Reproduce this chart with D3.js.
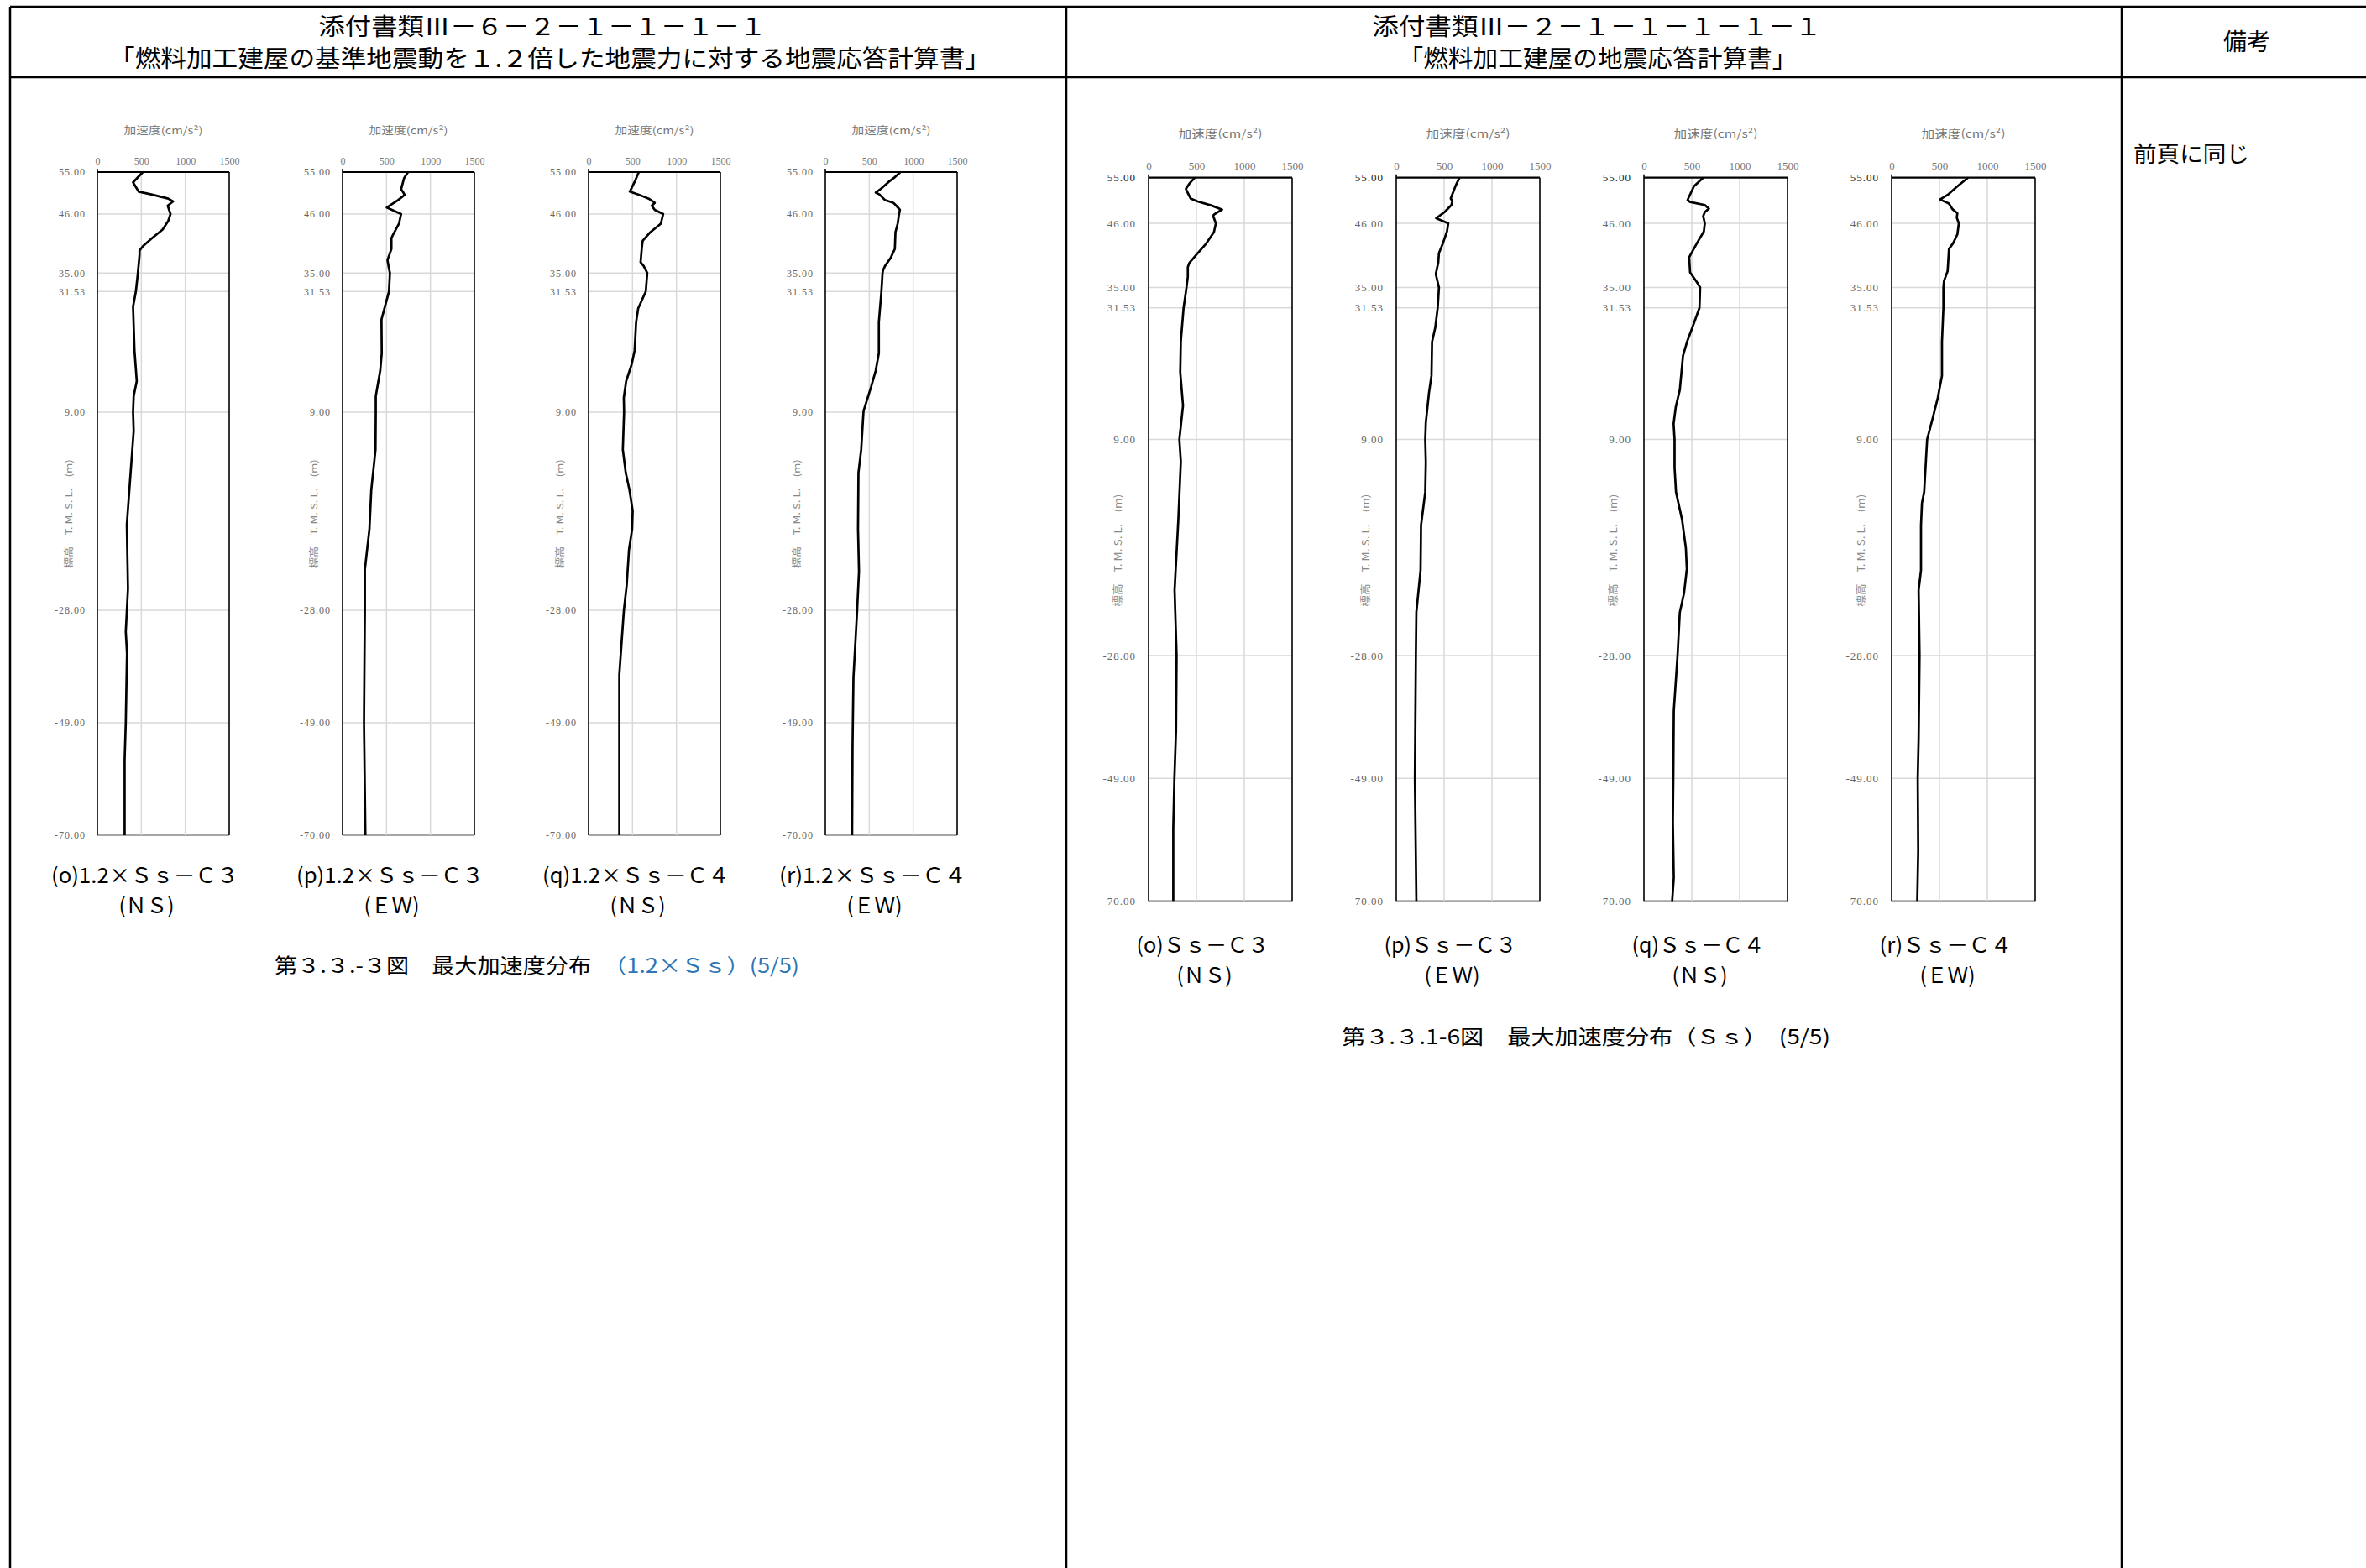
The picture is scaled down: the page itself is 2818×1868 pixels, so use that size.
<!DOCTYPE html>
<html><head><meta charset="utf-8">
<script src="https://cdn.jsdelivr.net/npm/d3@7"></script>
<style>body{margin:0;background:#fff}svg{display:block}</style>
</head><body>
<svg id="c" width="2818" height="1868"></svg>
<script>
// ---- axis ticks ----
const elevTicks = [55, 46, 35, 31.53, 9, -28, -49, -70];
const accelTicks = [0, 500, 1000, 1500];

// ---- labels ----
const leftCaptions = ["(o)1.2×Ｓｓ－Ｃ３", "(p)1.2×Ｓｓ－Ｃ３", "(q)1.2×Ｓｓ－Ｃ４", "(r)1.2×Ｓｓ－Ｃ４"];
const rightCaptions = ["(o)Ｓｓ－Ｃ３", "(p)Ｓｓ－Ｃ３", "(q)Ｓｓ－Ｃ４", "(r)Ｓｓ－Ｃ４"];
const dirLabels = ["(ＮＳ)", "(ＥＷ)", "(ＮＳ)", "(ＥＷ)"];

// ---- series: left (1.2×Ss) ----
const L_o_elev = [55, 52.8, 50.8, 50.2, 49.3, 48.7, 47.8, 46, 44.7, 43.1, 41.6, 40.0, 39.2, 38.4, 35, 31.53, 28.7, 20.6, 14.8, 12.0, 9, 5.5, -12, -24, -32, -36, -49, -56, -70];
const L_o_acc  = [518, 406, 470, 614, 806, 861, 800, 832, 806, 742, 630, 518, 480, 480, 461, 438, 406, 422, 448, 413, 406, 413, 335, 348, 323, 337, 323, 310, 310];

const L_p_elev = [55, 53.7, 51.3, 50.8, 50.1, 48.9, 47.4, 46, 44.2, 42.1, 41.5, 39.5, 37.4, 35.8, 35, 31.53, 26.3, 20, 16.8, 12, 9, 2, -5.5, -12.8, -20.4, -28, -49, -70];
const L_p_acc  = [745, 700, 666, 686, 707, 625, 504, 666, 642, 573, 556, 556, 511, 528, 539, 528, 443, 446, 429, 378, 378, 375, 327, 306, 254, 254, 244, 260];

const L_q_elev = [55, 52.9, 50.8, 50.2, 49.3, 48.4, 47.8, 46.9, 46, 44.2, 42.6, 41, 39.7, 37, 36.3, 35, 31.53, 28.4, 25.8, 20.5, 17.9, 14.8, 11.7, 9, 2, -2.3, -5.5, -9.4, -12.8, -16.7, -23.3, -28, -40, -49, -70];
const L_q_acc  = [572, 524, 469, 565, 685, 753, 719, 753, 849, 822, 702, 616, 606, 592, 627, 668, 651, 565, 541, 524, 490, 428, 401, 404, 390, 423, 465, 502, 496, 460, 434, 402, 350, 350, 350];

const L_r_elev = [55, 53.9, 52.9, 51.4, 50.6, 50.2, 49, 48.4, 47.8, 46.9, 46, 44.2, 42.6, 39.5, 37.8, 36.3, 35.5, 35, 31.53, 25.8, 20, 16.8, 13.7, 9.5, 9, 2, -2.3, -12.8, -20.7, -28, -40.6, -53.1, -70];
const L_r_acc  = [855, 791, 721, 632, 574, 616, 679, 775, 807, 849, 839, 823, 798, 791, 743, 679, 657, 651, 638, 609, 609, 574, 520, 440, 434, 408, 377, 372, 383, 362, 320, 310, 305];

// ---- series: right (Ss) ----
const R_o_elev = [55, 53.8, 52.8, 52, 50.9, 50.3, 49.5, 48.7, 47.8, 47.5, 46, 44.5, 42.5, 40.6, 39.2, 38.5, 36.8, 35, 31.53, 25.8, 20.5, 14.8, 9, 5.2, -5, -16.8, -28, -40.8, -49, -57.5, -70];
const R_o_acc  = [483, 425, 390, 410, 439, 513, 659, 768, 689, 674, 703, 683, 601, 498, 425, 410, 410, 396, 366, 337, 331, 360, 322, 337, 310, 272, 293, 287, 270, 258, 258];

const R_p_elev = [55, 53.3, 50.9, 50.4, 49.6, 48.2, 47, 46, 44.6, 42.6, 40.9, 39.3, 37.3, 35.9, 35, 31.53, 28.1, 25.7, 19.9, 17, 11.9, 9, 5.1, 0, -5.7, -13.4, -20.6, -28, -49, -70];
const R_p_acc  = [661, 618, 569, 586, 576, 504, 417, 543, 530, 488, 446, 439, 413, 433, 446, 433, 407, 374, 368, 342, 309, 303, 309, 303, 259, 254, 210, 205, 195, 210];

const R_q_elev = [55, 53.3, 50.6, 50.2, 49.6, 48.9, 48.2, 47.4, 46, 44.6, 42.6, 40.2, 37.6, 35.9, 35, 31.53, 28.1, 25.7, 23.3, 17.5, 14.6, 11.7, 9, 4.2, 0, -4.8, -9.6, -13.2, -17.3, -20.6, -28, -37.5, -49, -56.6, -66, -70];
const R_q_acc  = [619, 522, 456, 482, 636, 678, 636, 619, 636, 626, 554, 473, 482, 554, 587, 580, 505, 450, 408, 375, 333, 310, 320, 320, 335, 399, 438, 448, 419, 375, 351, 312, 307, 302, 312, 295];

const R_r_elev = [55, 53.3, 51.6, 50.7, 49.9, 48.8, 48, 47.1, 46, 44.1, 42.6, 41.6, 40.2, 37.8, 36.1, 35, 31.53, 25.7, 19.9, 16.1, 12.7, 9, 0, -1.9, -5.7, -13.4, -16.8, -28, -42.3, -49, -61.4, -70];
const R_r_acc  = [798, 687, 585, 506, 599, 635, 687, 681, 702, 687, 643, 599, 594, 585, 547, 541, 541, 526, 526, 482, 430, 371, 340, 317, 307, 307, 282, 292, 282, 273, 278, 268];

const leftSeries = [[L_o_elev, L_o_acc], [L_p_elev, L_p_acc], [L_q_elev, L_q_acc], [L_r_elev, L_r_acc]];
const rightSeries = [[R_o_elev, R_o_acc], [R_p_elev, R_p_acc], [R_q_elev, R_q_acc], [R_r_elev, R_r_acc]];

const svg = d3.select('#c');
const JP = '"Noto Sans CJK JP", "Noto Sans", sans-serif';
const NUM = '"Liberation Serif", "DejaVu Serif", serif';

// ---- page table frame ----
const frame = svg.append('g').attr('stroke', '#000').attr('stroke-width', 2.5);
frame.append('line').attr('x1', 12).attr('x2', 2818).attr('y1', 8).attr('y2', 8);
frame.append('line').attr('x1', 12).attr('x2', 2818).attr('y1', 92).attr('y2', 92);
[12, 1270, 2527].forEach(x => frame.append('line').attr('x1', x).attr('x2', x).attr('y1', 8).attr('y2', 1868));

function txt(x, y, s, size, opts = {}) {
  const t = svg.append('text').attr('x', x).attr('y', y).text(s)
    .attr('font-family', opts.family || JP).attr('font-size', size)
    .attr('fill', opts.fill || '#000').attr('text-anchor', opts.anchor || 'middle');
  if (opts.len) t.attr('textLength', opts.len).attr('lengthAdjust', 'spacingAndGlyphs');
  if (opts.weight) t.attr('font-weight', opts.weight);
  return t;
}

// headers
txt(646, 42, '添付書類Ⅲ－６－２－１－１－１－１', 28, {len: 533});
txt(655, 80, '「燃料加工建屋の基準地震動を１.２倍した地震力に対する地震応答計算書」', 28, {len: 1050});
txt(1902, 42, '添付書類Ⅲ－２－１－１－１－１－１', 28, {len: 535});
txt(1903, 80, '「燃料加工建屋の地震応答計算書」', 28, {len: 475});
txt(2676, 60, '備考', 28);
txt(2541, 193, '前頁に同じ', 26, {anchor: 'start', len: 138});

function drawChart(cfg, elev, acc, caption, dir) {
  const x = d3.scaleLinear().domain([0, 1500]).range([cfg.x0, cfg.x0 + cfg.w]);
  const y = d3.scaleLinear().domain([-70, 46, 55]).range([cfg.bottom, cfg.y46, cfg.top]);
  const g = svg.append('g');

  // horizontal gridlines
  g.selectAll('line.hg').data(elevTicks.filter(d => d !== 55)).join('line')
    .attr('class', 'hg')
    .attr('x1', x(0)).attr('x2', x(1500))
    .attr('y1', d => y(d)).attr('y2', d => y(d))
    .attr('stroke', d => d === -70 ? '#a6a6a6' : '#d9d9d9')
    .attr('stroke-width', d => d === -70 ? 2 : 1.5);
  // vertical gridlines
  g.selectAll('line.vg').data(accelTicks.filter(d => d > 0 && d < 1500)).join('line')
    .attr('class', 'vg')
    .attr('x1', d => x(d)).attr('x2', d => x(d))
    .attr('y1', y(55)).attr('y2', y(-70))
    .attr('stroke', '#d9d9d9').attr('stroke-width', 1.5);
  // frame lines
  g.append('line').attr('x1', x(0)).attr('x2', x(0)).attr('y1', y(55) - 4).attr('y2', y(-70))
    .attr('stroke', '#000').attr('stroke-width', 1.6);
  g.append('line').attr('x1', x(1500)).attr('x2', x(1500)).attr('y1', y(55)).attr('y2', y(-70))
    .attr('stroke', '#000').attr('stroke-width', 1.6);
  g.append('line').attr('x1', x(0)).attr('x2', x(1500)).attr('y1', y(55)).attr('y2', y(55))
    .attr('stroke', '#000').attr('stroke-width', 2.2);

  // y axis labels
  const ya = g.append('g').attr('transform', `translate(${x(0)},0)`)
    .call(d3.axisLeft(y).tickValues(elevTicks).tickSize(0).tickPadding(cfg.ypad)
      .tickFormat(d => d.toFixed(2)));
  ya.select('.domain').remove();
  ya.selectAll('text').attr('font-family', NUM).attr('font-size', cfg.fs)
    .attr('letter-spacing', 1).attr('fill', (d) => (cfg.dark55 && d === 55) ? '#222' : '#666');
  ya.attr('font-family', null).attr('font-size', null);

  // x axis labels (top)
  const xa = g.append('g').attr('transform', `translate(0,${y(55)})`)
    .call(d3.axisTop(x).tickValues(accelTicks).tickSize(0).tickPadding(cfg.xpad).tickFormat(d => d));
  xa.select('.domain').remove();
  xa.selectAll('text').attr('font-family', NUM).attr('font-size', cfg.fs).attr('fill', '#777');
  xa.attr('font-family', null).attr('font-size', null);

  // axis titles
  const cx = (x(0) + x(1500)) / 2;
  txt(cx, cfg.titleY, '加速度(cm/s²)', cfg.fs, {fill: '#777', len: cfg.titleLen});
  const ty = y(-10), tx = x(0) - cfg.ytOff;
  svg.append('text').attr('transform', `translate(${tx},${ty}) rotate(-90)`)
    .attr('text-anchor', 'middle').attr('dy', '0.35em')
    .attr('font-family', JP).attr('font-size', cfg.fs - 1).attr('fill', '#888')
    .attr('textLength', cfg.ytLen).attr('lengthAdjust', 'spacingAndGlyphs')
    .text('標高　T. M. S. L.　(m)');

  // profile line
  const pts = elev.map((e, i) => ({e, a: acc[i]}));
  g.append('path').datum(pts)
    .attr('d', d3.line().x(d => x(d.a)).y(d => y(d.e)))
    .attr('fill', 'none').attr('stroke', '#000').attr('stroke-width', 2.7)
    .attr('stroke-linejoin', 'round');

  // captions
  const capX = cx - cfg.capOff;
  txt(capX, cfg.capY, caption, 25, {len: cfg.capLen});
  txt(capX + 2, cfg.dirY, dir, 25, {len: 66});
}

const leftCfg = {top: 205, y46: 255, bottom: 995, w: 157, fs: 12, ypad: 14, xpad: 9,
  titleY: 160, titleLen: 94, ytOff: 34, ytLen: 130, capOff: 22, capY: 1052, dirY: 1088, capLen: 223};
const rightCfg = {top: 211.7, y46: 266, bottom: 1073.3, w: 171, fs: 13, ypad: 15, xpad: 10,
  titleY: 164, titleLen: 100, ytOff: 36, ytLen: 134, capOff: 21, capY: 1135, dirY: 1171, capLen: 158, dark55: true};
const leftX0 = [116, 408, 701, 983];
const rightX0 = [1368, 1663, 1958, 2253];

leftSeries.forEach((s, i) => drawChart(Object.assign({x0: leftX0[i]}, leftCfg), s[0], s[1], leftCaptions[i], dirLabels[i]));
rightSeries.forEach((s, i) => drawChart(Object.assign({x0: rightX0[i]}, rightCfg), s[0], s[1], rightCaptions[i], dirLabels[i]));

// figure captions
txt(327, 1159, '第３.３.-３図　最大加速度分布', 24, {anchor: 'start', len: 377});
txt(719, 1159, '（1.2×Ｓｓ）(5/5)', 24, {anchor: 'start', len: 233, fill: '#2e75b6'});
txt(1598, 1244, '第３.３.1-6図　最大加速度分布（Ｓｓ）　(5/5)', 24, {anchor: 'start', len: 582});
</script>
</body></html>
